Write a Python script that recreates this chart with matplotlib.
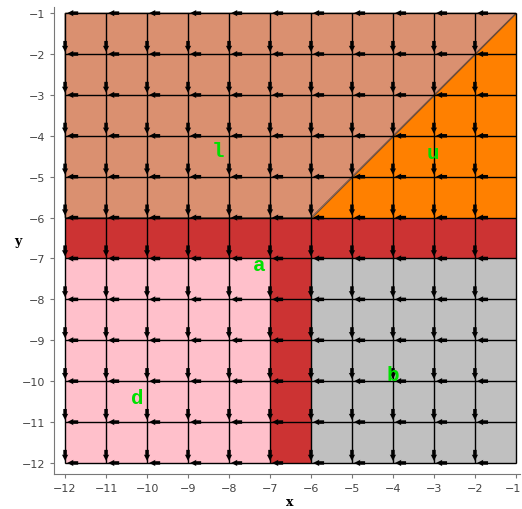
import matplotlib.pyplot as plt
import matplotlib.transforms as mtransforms
import numpy as np

# regiões (vértices em coordenadas dos dados)
regiao_l = [(-12, -6), (-6, -6), (-1, -1), (-12, -1)]
regiao_u = [(-6, -6), (-1, -6), (-1, -1)]
regiao_a = [(-12, -7), (-7, -7), (-7, -12), (-6, -12), (-6, -7), (-1, -7), (-1, -6), (-12, -6)]
regiao_d = [(-12, -12), (-7, -12), (-7, -7), (-12, -7)]
regiao_b = [(-6, -12), (-1, -12), (-1, -7), (-6, -7)]

rotulos = ['l', 'u', 'a', 'b', 'd']
rotulos_x = [-8.27, -3.02, -7.27, -4.0, -10.24]
rotulos_y = [-4.37, -4.4, -7.14, -9.83, -10.39]

ticks = list(range(-12, 0))

# grade de setas
seta_h_x, seta_h_y = np.meshgrid(np.arange(-12, -1), np.arange(-12, 0))
seta_v_x, seta_v_y = np.meshgrid(np.arange(-12, -1), np.arange(-12, -1))

fig = plt.figure(figsize=(5.22, 5.10), dpi=100)
ax = fig.add_axes([54 / 522, 35 / 510, 466 / 522, 467 / 510])

cores = ['#DA9070', '#FF8000', '#CC3333', '#FFC0CB', '#C0C0C0']
for reg, cor in zip([regiao_l, regiao_u, regiao_a, regiao_d, regiao_b], cores):
    xs, ys = zip(*reg)
    ax.fill(xs, ys, color=cor, edgecolor='#5a3a2a', linewidth=0.6, zorder=1)

# linhas da grade
ax.vlines(ticks, -12, -1, color='black', linewidth=1.0, zorder=2)
ax.hlines(ticks, -12, -1, color='black', linewidth=1.0, zorder=2)

estilo = dict(angles='xy', scale_units='xy', scale=1, units='dots', width=3.5,
              headwidth=1.8, headlength=1.8, headaxislength=1.7, color='black', zorder=3)
# setas horizontais (apontando para a esquerda)
ax.quiver(seta_h_x + 0.32, seta_h_y, -0.27 * np.ones_like(seta_h_x), np.zeros_like(seta_h_x), **estilo)
# setas verticais (apontando para baixo)
ax.quiver(seta_v_x, seta_v_y + 0.32, np.zeros_like(seta_v_x), -0.27 * np.ones_like(seta_v_x), **estilo)

for t, x, y in zip(rotulos, rotulos_x, rotulos_y):
    ax.text(x, y, t, color='#00E000', fontsize=15, fontweight='bold', family='Liberation Mono',
            ha='center', va='center', zorder=4)

ax.set_xlim(-12.27, -0.9)
ax.set_ylim(-12.27, -0.85)
ax.set_xticks(ticks)
ax.set_yticks(ticks)
ax.tick_params(labelsize=8, labelcolor='#444444', length=3, color='#777777')
ax.spines['top'].set_visible(False)
ax.spines['right'].set_visible(False)
ax.spines['left'].set_color('#777777')
ax.spines['bottom'].set_color('#777777')

# último rótulo do eixo x um pouco para a esquerda para não ser cortado
ultimo = ax.get_xticklabels()[-1]
ultimo.set_transform(ultimo.get_transform() + mtransforms.ScaledTranslation(-3 / 100, 0, fig.dpi_scale_trans))

fig.text(290 / 522, 1 - 503 / 510, 'x', fontsize=9, fontweight='bold', family='DejaVu Serif',
         ha='center', va='center')
fig.text(18 / 522, 1 - 242 / 510, 'y', fontsize=9, fontweight='bold', family='DejaVu Serif',
         ha='center', va='center')

fig.savefig('out.png', dpi=100)
